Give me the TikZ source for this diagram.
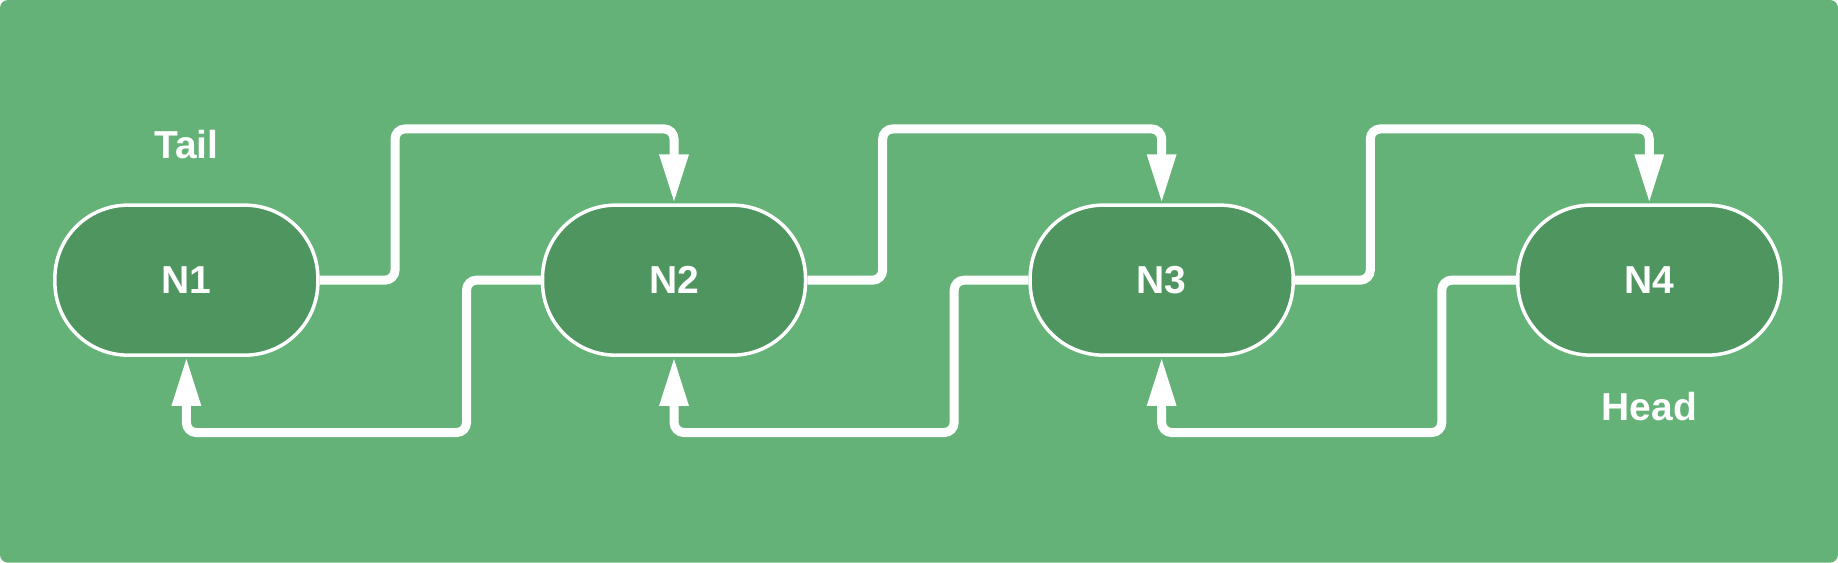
\documentclass[tikz,border=0pt]{standalone}
\usepackage{fontspec}
\setmainfont{Liberation Sans}
\usetikzlibrary{arrows.meta}
\definecolor{bg}{HTML}{64B278}
\definecolor{nd}{HTML}{4E9560}
\begin{document}
\begin{tikzpicture}[x=1.1722pt,y=-1.1722pt,
  nodebox/.style={draw=white,line width=3.5pt,fill=nd,rounded corners=73pt,minimum width=263pt,minimum height=150pt,text=white,font=\fontsize{39}{39}\selectfont\bfseries},
  lbl/.style={text=white,font=\fontsize{39}{39}\selectfont\bfseries},
  link/.style={draw=white,line width=9pt,rounded corners=10pt,-{Triangle[length=49pt,width=27pt]}}]
\fill[bg,rounded corners=8pt] (0,0) rectangle (1568,480);
\useasboundingbox (0,0) rectangle (1568,480);
\node[nodebox] (n1) at (159,239) {N1};
\node[nodebox] (n2) at (575,239) {N2};
\node[nodebox] (n3) at (991,239) {N3};
\node[nodebox] (n4) at (1407,239) {N4};
\node[lbl] (tail) at (159,123) {Tail};
\node[lbl] (head) at (1407,347) {Head};
\draw[link] (n1.east) -| (337,110) -| (n2.north);
\draw[link] (n2.east) -| (753,110) -| (n3.north);
\draw[link] (n3.east) -| (1169,110) -| (n4.north);
\draw[link] (n2.west) -| (398,369) -| (n1.south);
\draw[link] (n3.west) -| (814,369) -| (n2.south);
\draw[link] (n4.west) -| (1230,369) -| (n3.south);
\end{tikzpicture}
\end{document}
